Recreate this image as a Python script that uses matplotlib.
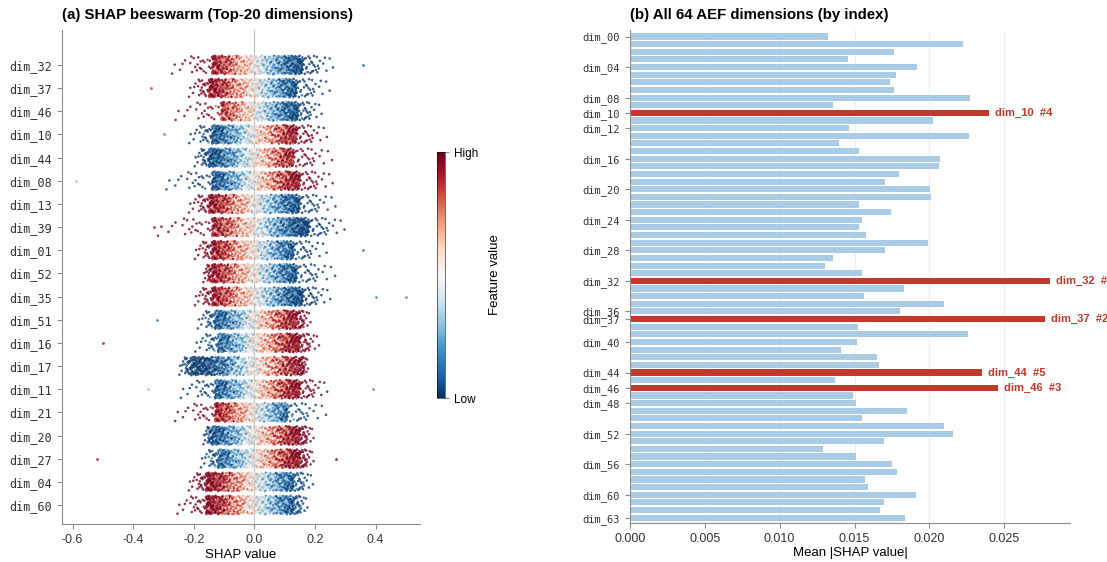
import numpy as np
import matplotlib.pyplot as plt
from matplotlib import cm, colors

plt.rcParams['font.family'] = ['Liberation Sans', 'DejaVu Sans']
plt.rcParams['axes.unicode_minus'] = False

# ---- panel (a): top-20 dims ----
top_dims = ['dim_32', 'dim_37', 'dim_46', 'dim_10', 'dim_44', 'dim_08', 'dim_13',
            'dim_39', 'dim_01', 'dim_52', 'dim_35', 'dim_51', 'dim_16', 'dim_17',
            'dim_11', 'dim_21', 'dim_20', 'dim_27', 'dim_04', 'dim_60']
# +1: high feature value pushes SHAP up, -1: pushes it down
top_dir = [-1, -1, -1, 1, 1, 1, -1, -1, -1, -1, -1, 1, 1, 1, 1, -1, 1, 1, -1, -1]
tail_lo = [-0.28, -0.22, -0.27, -0.22, -0.20, -0.30, -0.22, -0.33, -0.20, -0.17,
           -0.20, -0.19, -0.20, -0.25, -0.25, -0.27, -0.17, -0.18, -0.22, -0.26]
core_lo = [-0.14, -0.15, -0.11, -0.14, -0.15, -0.14, -0.15, -0.14, -0.14, -0.14,
           -0.14, -0.13, -0.12, -0.21, -0.13, -0.13, -0.14, -0.12, -0.16, -0.16]
core_hi = [0.16, 0.14, 0.145, 0.14, 0.13, 0.15, 0.15, 0.18, 0.13, 0.14,
           0.16, 0.14, 0.15, 0.15, 0.15, 0.11, 0.15, 0.15, 0.13, 0.13]
tail_hi = [0.27, 0.26, 0.23, 0.25, 0.27, 0.27, 0.28, 0.31, 0.25, 0.28,
           0.26, 0.19, 0.22, 0.18, 0.25, 0.25, 0.20, 0.20, 0.20, 0.18]
# isolated points: (dimension, SHAP value, feature value)
outliers = [('dim_32', 0.36, 0.10), ('dim_37', -0.34, 0.85), ('dim_10', -0.30, 0.20),
            ('dim_08', -0.59, 0.30), ('dim_39', -0.33, 0.90), ('dim_01', 0.36, 0.15),
            ('dim_35', 0.40, 0.20), ('dim_35', 0.50, 0.20), ('dim_51', -0.32, 0.15),
            ('dim_16', -0.50, 0.90), ('dim_11', -0.35, 0.30), ('dim_11', 0.39, 0.80),
            ('dim_27', -0.52, 0.90), ('dim_27', 0.27, 0.95)]

# ---- panel (b): mean |SHAP| for all 64 dims ----
bar_vals = [0.01326, 0.02228, 0.01767, 0.01459, 0.01916, 0.01774, 0.01736, 0.01765,
            0.02271, 0.01355, 0.02398, 0.02023, 0.01464, 0.02268, 0.01395, 0.01529,
            0.02074, 0.02063, 0.01800, 0.01702, 0.02002, 0.02008, 0.01531, 0.01747,
            0.01553, 0.01531, 0.01580, 0.01990, 0.01707, 0.01355, 0.01303, 0.01549,
            0.02803, 0.01832, 0.01564, 0.02101, 0.01807, 0.02774, 0.01522, 0.02259,
            0.01517, 0.01408, 0.01653, 0.01664, 0.02351, 0.01373, 0.02458, 0.01488,
            0.01511, 0.01849, 0.01549, 0.02099, 0.02159, 0.01696, 0.01288, 0.01508,
            0.01751, 0.01783, 0.01571, 0.01589, 0.01910, 0.01698, 0.01669, 0.01840]
top5 = ['dim_32', 'dim_37', 'dim_46', 'dim_10', 'dim_44']
ytick_idx = [0, 4, 8, 10, 12, 16, 20, 24, 28, 32, 36, 37, 40, 44, 46, 48, 52, 56, 60, 63]


def halton(count, base):
    # deterministic low-discrepancy spread, used to place points inside a strip
    out = np.zeros(count)
    for idx in range(count):
        f, r, m = 1.0, 0.0, idx + 1
        while m > 0:
            f /= base
            r += f * (m % base)
            m //= base
        out[idx] = r
    return out


fig = plt.figure(figsize=(11.07, 5.62), dpi=100)
ax1 = fig.add_axes([0.056, 0.0676, 0.323, 0.879])
cax = fig.add_axes([0.3948, 0.2918, 0.0072, 0.4377])
ax2 = fig.add_axes([0.5691, 0.0694, 0.3975, 0.8772])

cmap = plt.get_cmap('RdBu_r')
spine_col = '#8c8c8c'

# beeswarm-like strips: points spread over each row's quantiles
n = 700
pos_u = halton(n, 2)
jit = halton(n, 3) - 0.5
mix = halton(n, 5) - 0.5
for i, name in enumerate(top_dims):
    knots = [tail_lo[i], (tail_lo[i] + core_lo[i]) / 2, core_lo[i],
             core_hi[i], (core_hi[i] + tail_hi[i]) / 2, tail_hi[i]]
    xs = np.interp(pos_u, [0, 0.008, 0.035, 0.955, 0.99, 1], knots)
    fv = np.clip(0.5 + top_dir[i] * xs / 0.27 + mix * 0.45, 0.02, 0.98)
    ax1.scatter(xs, i + jit * 0.8, c=fv, cmap=cmap, vmin=0, vmax=1,
                s=3.5, lw=0, alpha=0.8, zorder=2)
for name, sv, fv in outliers:
    ax1.scatter([sv], [top_dims.index(name)], c=[fv], cmap=cmap, vmin=0, vmax=1,
                s=4, lw=0, alpha=0.85, zorder=2)

ax1.axvline(0, color='#bdbdbd', lw=0.8, zorder=1)
ax1.set_xlim(-0.635, 0.545)
ax1.set_ylim(19.82, -1.51)
ax1.set_yticks(range(len(top_dims)))
ax1.set_yticklabels(top_dims, fontfamily='DejaVu Sans Mono', fontsize=8.5)
ax1.set_xticks([-0.6, -0.4, -0.2, 0.0, 0.2, 0.4])
ax1.tick_params(axis='x', labelsize=9)
ax1.set_xlabel('SHAP value', fontsize=9.5, labelpad=2)
ax1.set_title('(a) SHAP beeswarm (Top-20 dimensions)', loc='left',
              fontsize=10.8, fontweight='bold', pad=8)

cb = fig.colorbar(cm.ScalarMappable(norm=colors.Normalize(0, 1), cmap=cmap),
                  cax=cax, ticks=[0, 1])
cb.set_ticklabels(['Low', 'High'])
cb.ax.tick_params(labelsize=8.5, length=3, color=spine_col)
cb.outline.set_linewidth(0.4)
cb.set_label('Feature value', fontsize=9.5, labelpad=8)

# bar chart of all dimensions
dims = ['dim_%02d' % i for i in range(len(bar_vals))]
bar_cols = ['#c0392b' if d in top5 else '#a9cbe5' for d in dims]
ax2.barh(range(len(bar_vals)), bar_vals, height=0.8, color=bar_cols, zorder=2)
for d in top5:
    j = dims.index(d)
    ax2.text(bar_vals[j] + 0.0004, j, '%s  #%d' % (d, top5.index(d) + 1),
             va='center', ha='left', color='#c0392b', fontsize=8, fontweight='bold')
ax2.set_ylim(63.7, -0.85)
ax2.set_xlim(0, 0.0294)
ax2.set_yticks(ytick_idx)
ax2.set_yticklabels([dims[i] for i in ytick_idx], fontfamily='DejaVu Sans Mono',
                    fontsize=7.5)
ax2.set_xticks([0, 0.005, 0.010, 0.015, 0.020, 0.025])
ax2.set_xticklabels(['0.000', '0.005', '0.010', '0.015', '0.020', '0.025'])
ax2.tick_params(axis='x', labelsize=9)
ax2.grid(axis='x', color='#eeeeee', lw=0.8, zorder=0)
ax2.set_xlabel('Mean |SHAP value|', fontsize=9.5, labelpad=2)
ax2.set_title('(b) All 64 AEF dimensions (by index)', loc='left',
              fontsize=10.8, fontweight='bold', pad=8)

for ax in (ax1, ax2):
    ax.spines['top'].set_visible(False)
    ax.spines['right'].set_visible(False)
    ax.spines['left'].set_color(spine_col)
    ax.spines['bottom'].set_color(spine_col)
    ax.tick_params(colors=spine_col, labelcolor='#333333', length=3.5)

fig.savefig('out.png', dpi=100)
